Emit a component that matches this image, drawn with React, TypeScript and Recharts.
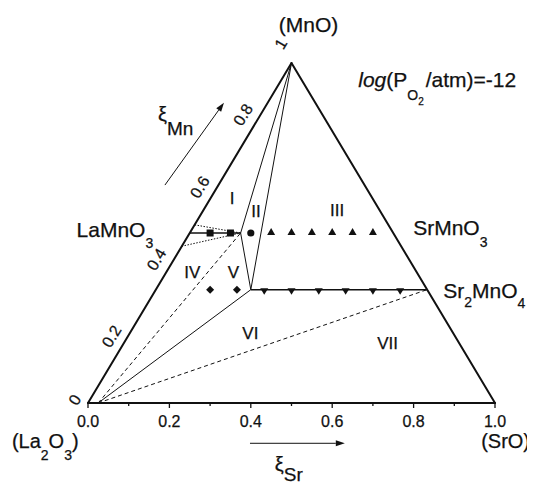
import React from 'react';
import { ScatterChart, Scatter, XAxis, YAxis, ReferenceLine, ReferenceDot } from 'recharts';

const FONT = '"Liberation Sans", Arial, Helvetica, sans-serif';
const INK = '#111';
const TEXT_STROKE = { stroke: INK, strokeWidth: 0.25 };

// Ternary compositions projected on the plane: x = horizontal coordinate, y = xi_Mn
const la2o3 = { x: 0, y: 0 };
const sro = { x: 1, y: 0 };
const mno = { x: 0.5, y: 1 };
const laMnO3 = { x: 0.25, y: 0.5 };
const nodeA = { x: 0.375, y: 0.5 };
const nodeB = { x: 0.4, y: 0.3333 };
const sr2MnO4 = { x: 0.833, y: 0.3333 };
const fanOrigin = { x: 0.025, y: 0 };
const dottedUpperEnd = { x: 0.262, y: 0.524 };
const dottedLowerEnd = { x: 0.23, y: 0.461 };

const outlineEdges = [[la2o3, mno], [mno, sro], [sro, la2o3]];
const thinSolidLines = [[mno, nodeA], [nodeA, nodeB], [mno, nodeB], [nodeB, fanOrigin]];
const tieLines = [[laMnO3, nodeA], [nodeB, sr2MnO4]];
const dashedLines = [[fanOrigin, nodeA], [fanOrigin, sr2MnO4]];
const dottedLines = [[dottedUpperEnd, nodeA], [dottedLowerEnd, nodeA]];

const squarePoints = [{ x: 0.3, y: 0.5 }, { x: 0.35, y: 0.5 }];
const circlePoints = [{ x: 0.4, y: 0.5 }];
const upTrianglePoints = [
  { x: 0.45, y: 0.5 }, { x: 0.5, y: 0.5 }, { x: 0.55, y: 0.5 },
  { x: 0.6, y: 0.5 }, { x: 0.65, y: 0.5 }, { x: 0.7, y: 0.5 },
];
const diamondPoints = [{ x: 0.3, y: 0.3333 }, { x: 0.366, y: 0.3333 }];
const downTrianglePoints = [
  { x: 0.433, y: 0.3333 }, { x: 0.5, y: 0.3333 }, { x: 0.567, y: 0.3333 },
  { x: 0.633, y: 0.3333 }, { x: 0.7, y: 0.3333 }, { x: 0.767, y: 0.3333 },
];

const bottomTicks = [0, 0.1, 0.2, 0.3, 0.4, 0.5, 0.6, 0.7, 0.8, 0.9, 1.0];
const leftTickValues = [0, 0.2, 0.4, 0.6, 0.8, 1];
const leftTickLabels = ['0', '0.2', '0.4', '0.6', '0.8', '1'];
// label placement relative to the edge (pixels along edge / outward)
const leftTickAlong = [-4, -10, 0, 5, 10, 11];
const leftTickOut = [13, 14, 15, 15, 15, 19];

const regionLabels = [
  { text: 'I', x: 0.354, y: 0.602 },
  { text: 'II', x: 0.413, y: 0.566 },
  { text: 'III', x: 0.612, y: 0.568 },
  { text: 'IV', x: 0.256, y: 0.385 },
  { text: 'V', x: 0.357, y: 0.385 },
  { text: 'VI', x: 0.399, y: 0.205 },
  { text: 'VII', x: 0.736, y: 0.176 },
];

const annotations = [
  { id: 'MnO', x: 0.542, y: 1.091 },
  { id: 'log', x: 0.664, y: 0.93 },
  { id: 'LaMnO3', x: -0.028, y: 0.487 },
  { id: 'SrMnO3', x: 0.799, y: 0.494 },
  { id: 'Sr2MnO4', x: 0.873, y: 0.308 },
  { id: 'La2O3', x: -0.187, y: -0.132 },
  { id: 'SrO', x: 0.966, y: -0.132 },
  { id: 'xiMn', x: 0.172, y: 0.829 },
  { id: 'xiSr', x: 0.459, y: -0.2 },
];

const arrows = [
  [{ x: 0.189, y: 0.641 }, { x: 0.334, y: 0.883 }],
  [{ x: 0.398, y: -0.1185 }, { x: 0.631, y: -0.1185 }],
];

const renderAnnotation = (id: string, cx: number, cy: number) => {
  const base = { fontFamily: FONT, fill: INK, ...TEXT_STROKE };
  switch (id) {
    case 'MnO':
      return <text x={cx} y={cy} textAnchor="middle" fontSize={21} {...base}>(MnO)</text>;
    case 'log':
      return (
        <text x={cx} y={cy} fontSize={21} {...base}>
          <tspan fontStyle="italic">log</tspan>(P
          <tspan fontSize={14} dy={13}>O</tspan>
          <tspan fontSize={10} dy={5}>2</tspan>
          <tspan dy={-18} dx={2}>/atm)=-12</tspan>
        </text>
      );
    case 'LaMnO3':
      return (
        <text x={cx} y={cy} fontSize={21} {...base}>
          LaMnO<tspan fontSize={14} dy={11}>3</tspan>
        </text>
      );
    case 'SrMnO3':
      return (
        <text x={cx} y={cy} fontSize={21} {...base}>
          SrMnO<tspan fontSize={14} dy={12}>3</tspan>
        </text>
      );
    case 'Sr2MnO4':
      return (
        <text x={cx} y={cy} fontSize={21} {...base}>
          Sr<tspan fontSize={14} dy={9}>2</tspan>
          <tspan dy={-9}>MnO</tspan>
          <tspan fontSize={14} dy={10}>4</tspan>
        </text>
      );
    case 'La2O3':
      return (
        <text x={cx} y={cy} fontSize={20} {...base}>
          (La<tspan fontSize={14} dy={12}>2</tspan>
          <tspan dy={-12}>O</tspan>
          <tspan fontSize={14} dy={12}>3</tspan>
          <tspan dy={-12}>)</tspan>
        </text>
      );
    case 'SrO':
      return <text x={cx} y={cy} fontSize={20} {...base}>(SrO)</text>;
    case 'xiMn':
      return (
        <text x={cx} y={cy} fontSize={20} {...base}>
          ξ<tspan fontSize={19} dy={14}>Mn</tspan>
        </text>
      );
    case 'xiSr':
      return (
        <text x={cx} y={cy} fontSize={20} {...base}>
          ξ<tspan fontSize={19} dy={10}>Sr</tspan>
        </text>
      );
    default:
      return <g />;
  }
};

const ArrowShape = (props: any) => {
  const { x1, y1, x2, y2 } = props;
  const ang = Math.atan2(y2 - y1, x2 - x1);
  const L = 9;
  const W = 3;
  const bx = x2 - L * Math.cos(ang);
  const by = y2 - L * Math.sin(ang);
  const px = -Math.sin(ang) * W;
  const py = Math.cos(ang) * W;
  return (
    <g>
      <line x1={x1} y1={y1} x2={bx} y2={by} stroke={INK} strokeWidth={1} />
      <polygon points={`${x2},${y2} ${bx + px},${by + py} ${bx - px},${by - py}`} fill={INK} />
    </g>
  );
};

const BottomTick = (props: any) => {
  const { x, y, payload } = props;
  const v = payload.value;
  const major = Math.round(v * 10) % 2 === 0;
  return (
    <g>
      <line x1={x} y1={y} x2={x} y2={y + (major ? 5 : 3)} stroke={INK} strokeWidth={1.3} />
      {major && (
        <text x={x} y={y + 24} textAnchor="middle" fontSize={16} fontFamily={FONT} fill={INK} {...TEXT_STROKE}>
          {v.toFixed(1)}
        </text>
      )}
    </g>
  );
};

const leftTickShape = (i: number) => (p: any) => {
  const along = leftTickAlong[i];
  const perp = leftTickOut[i];
  const ux = 0.513, uy = -0.858;
  const nx = -0.858, ny = -0.513;
  const tx = p.cx + ux * along + nx * perp;
  const ty = p.cy + uy * along + ny * perp;
  return (
    <text
      x={tx}
      y={ty}
      transform={`rotate(-59 ${tx} ${ty})`}
      textAnchor="middle"
      dominantBaseline="central"
      fontSize={16}
      fontFamily={FONT}
      fill={INK}
      {...TEXT_STROKE}
    >
      {leftTickLabels[i]}
    </text>
  );
};

const squareShape = (p: any) => <rect x={p.cx - 3.5} y={p.cy - 3.5} width={7} height={7} fill={INK} />;
const circleShape = (p: any) => <circle cx={p.cx} cy={p.cy} r={3.6} fill={INK} />;
const upTriShape = (p: any) => (
  <polygon points={`${p.cx},${p.cy - 5} ${p.cx - 4},${p.cy + 2} ${p.cx + 4},${p.cy + 2}`} fill={INK} />
);
const downTriShape = (p: any) => (
  <polygon points={`${p.cx - 4},${p.cy - 1.5} ${p.cx + 4},${p.cy - 1.5} ${p.cx},${p.cy + 5}`} fill={INK} />
);
const diamondShape = (p: any) => (
  <polygon points={`${p.cx},${p.cy - 4} ${p.cx + 4},${p.cy} ${p.cx},${p.cy + 4} ${p.cx - 4},${p.cy}`} fill={INK} />
);

export default function App() {
  return (
    <div style={{ background: '#fff' }}>
      <ScatterChart width={527} height={479} margin={{ top: 55, right: 40, bottom: 54, left: 80 }}>
        <XAxis
          type="number"
          dataKey="x"
          domain={[0, 1]}
          ticks={bottomTicks}
          interval={0}
          tick={(p: any) => <BottomTick {...p} />}
          tickLine={false}
          axisLine={false}
          tickSize={0}
          tickMargin={0}
          height={30}
          allowDataOverflow
        />
        <YAxis type="number" dataKey="y" domain={[0, 1]} hide allowDataOverflow />

        {dottedLines.map((s, i) => (
          <ReferenceLine key={`dt${i}`} segment={s} ifOverflow="visible" stroke={INK} strokeWidth={1} strokeDasharray="1.5 1.5" />
        ))}
        {dashedLines.map((s, i) => (
          <ReferenceLine key={`da${i}`} segment={s} ifOverflow="visible" stroke={INK} strokeWidth={1} strokeDasharray="4 3" />
        ))}
        {thinSolidLines.map((s, i) => (
          <ReferenceLine key={`ts${i}`} segment={s} ifOverflow="visible" stroke={INK} strokeWidth={1} />
        ))}
        {tieLines.map((s, i) => (
          <ReferenceLine key={`tl${i}`} segment={s} ifOverflow="visible" stroke={INK} strokeWidth={1.5} />
        ))}
        {outlineEdges.map((s, i) => (
          <ReferenceLine key={`ol${i}`} segment={s} ifOverflow="visible" stroke={INK} strokeWidth={2} strokeLinecap="round" />
        ))}
        {arrows.map((s, i) => (
          <ReferenceLine key={`ar${i}`} segment={s} ifOverflow="visible" shape={ArrowShape} />
        ))}

        <Scatter data={squarePoints} shape={squareShape} isAnimationActive={false} />
        <Scatter data={circlePoints} shape={circleShape} isAnimationActive={false} />
        <Scatter data={upTrianglePoints} shape={upTriShape} isAnimationActive={false} />
        <Scatter data={diamondPoints} shape={diamondShape} isAnimationActive={false} />
        <Scatter data={downTrianglePoints} shape={downTriShape} isAnimationActive={false} />

        {leftTickValues.map((v, i) => (
          <ReferenceDot key={`lt${i}`} x={v / 2} y={v} r={1} ifOverflow="visible" shape={leftTickShape(i)} />
        ))}
        {regionLabels.map((l, i) => (
          <ReferenceDot
            key={`rl${i}`}
            x={l.x}
            y={l.y}
            r={1}
            ifOverflow="visible"
            shape={(p: any) => (
              <text x={p.cx} y={p.cy + 6} textAnchor="middle" fontSize={17} fontFamily={FONT} fill={INK} {...TEXT_STROKE}>
                {l.text}
              </text>
            )}
          />
        ))}
        {annotations.map((a) => (
          <ReferenceDot
            key={a.id}
            x={a.x}
            y={a.y}
            r={1}
            ifOverflow="visible"
            shape={(p: any) => renderAnnotation(a.id, p.cx, p.cy)}
          />
        ))}
      </ScatterChart>
    </div>
  );
}
